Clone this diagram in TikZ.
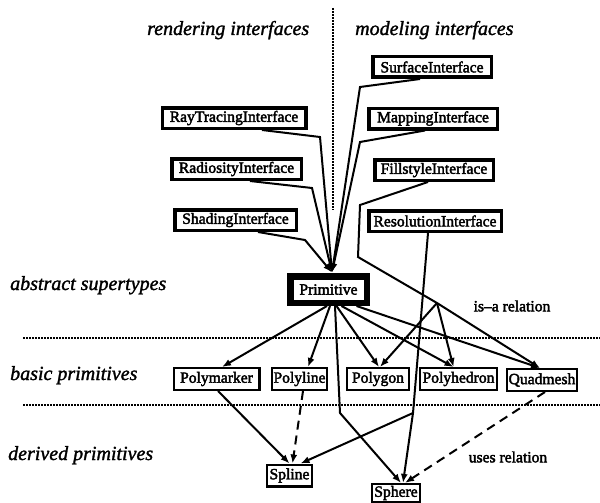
\documentclass[tikz,border=0pt]{standalone}
\usepackage{fontspec}
\setmainfont{Liberation Serif}
\newfontfamily\boxfont{Liberation Serif}[FakeBold=2.5]
\newfontfamily\levelfont{Liberation Serif}[FakeBold=1.5]
\usetikzlibrary{arrows.meta}
\begin{document}
\begin{tikzpicture}[x=1pt,y=-1pt,
  boxtext/.style={font=\boxfont\fontsize{15.6}{16}\selectfont},
  iface/.style={draw,line width=3.5pt,inner sep=0pt,minimum height=20.5pt,minimum width=#1,boxtext},
  basic/.style={draw,line width=2.2pt,inner sep=0pt,minimum height=21.8pt,minimum width=#1,boxtext},
  super/.style={draw,line width=6.5pt,inner sep=0pt,minimum width=76.5pt,minimum height=26.5pt,boxtext},
  level/.style={anchor=base west,inner sep=0pt,font=\levelfont\itshape\fontsize{20}{21}\selectfont},
  relname/.style={inner sep=0pt,boxtext},
  link/.style={line width=2pt,-{Latex[length=9pt,width=7pt]}},
  plain/.style={line width=2pt},
  uses/.style={link,dash pattern=on 9pt off 6pt},
  sep/.style={line width=1.6pt,dash pattern=on 1.6pt off 1.4pt}
]
\useasboundingbox (0,0) rectangle (600,503);

% separators between the levels
\coordinate (vtop) at (333,8);
\coordinate (vbot) at (333,210);
\coordinate (h1l) at (23,338);
\coordinate (h1r) at (600,338);
\coordinate (h2l) at (23,405);
\coordinate (h2r) at (600,405);
\draw[sep] (vtop) -- (vbot);
\draw[sep] (h1l) -- (h1r);
\draw[sep] (h2l) -- (h2r);

% level captions
\node[level] (lrend) at (147,35) {rendering interfaces};
\node[level] (lmod) at (355,35) {modeling interfaces};
\node[level] (labs) at (10,290) {abstract supertypes};
\node[level] (lbas) at (10,380) {basic primitives};
\node[level] (lder) at (8,460) {derived primitives};
\node[relname] (isa) at (512,306) {is\textendash a relation};
\node[relname] (usesrel) at (508,457) {uses relation};

% interfaces
\node[iface=118.5pt] (sf)  at (432,67)    {SurfaceInterface};
\node[iface=143.5pt] (rt)  at (234,118)   {RayTracingInterface};
\node[iface=128.5pt] (mp)  at (433,118.5) {MappingInterface};
\node[iface=129.5pt] (rad) at (236.5,169) {RadiosityInterface};
\node[iface=118.5pt] (fs)  at (434,170)   {FillstyleInterface};
\node[iface=121.5pt] (sh)  at (235.5,220) {ShadingInterface};
\node[iface=132.5pt] (res) at (435,221)   {ResolutionInterface};

% abstract supertype
\node[super] (prim) at (328.5,289.5) {Primitive};

% basic primitives
\node[basic=85.8pt] (pm) at (216.5,379) {Polymarker};
\node[basic=54.8pt] (pl) at (299.5,379) {Polyline};
\node[basic=61.8pt] (pg) at (378,379)   {Polygon};
\node[basic=76.8pt] (ph) at (458.5,379) {Polyhedron};
\node[basic=69.8pt] (qm) at (542,380)   {Quadmesh};

% derived primitives
\node[basic=44.8pt] (spl) at (289.5,475.5) {Spline};
\node[basic=47.8pt,minimum height=18pt] (sph) at (396,493) {Sphere};

% bend points of the connectors
\coordinate (pin) at (332,272.5);
\coordinate (brt) at (320,137);
\coordinate (brad) at (312,188);
\coordinate (bsh) at (305,240);
\coordinate (bsf) at (360,87);
\coordinate (bmp) at (360,142);
\coordinate (bfs1) at (360,205);
\coordinate (bfs2) at (358,257);
\coordinate (jfs) at (437,303);
\coordinate (bres) at (413,413);
\coordinate (bsph) at (340,413);

% interfaces inherited by Primitive
\draw[link] ([xshift=28pt]rt.south) -- (brt) -- (pin);
\draw[link] ([xshift=13.5pt]rad.south) -- (brad) -- (pin);
\draw[link] ([xshift=22.5pt]sh.south) -- (bsh) -- (pin);
\draw[link] ([xshift=-12pt]sf.south) -- (bsf) -- (pin);
\draw[link] ([xshift=-8pt]mp.south) -- (bmp) -- (pin);

% fill styles for the area primitives
\draw[link] ([xshift=-6pt]fs.south) -- (bfs1) -- (bfs2) -- (jfs) -- ([xshift=-2pt]qm.north);
\draw[link] (jfs) -- ([xshift=2pt]pg.north);
\draw[link] (jfs) -- ([xshift=-5pt]ph.north);

% resolution for the curved primitives
\draw[plain] ([xshift=-7pt]res.south) -- (bres);
\draw[link] (bres) -- ([xshift=11pt]spl.north);
\draw[link] (bres) -- ([xshift=7pt]sph.north);

% Primitive and its subtypes
\draw[link] ([xshift=-1.5pt]prim.south) -- ([xshift=5.5pt]pm.north);
\draw[link] ([xshift=1.5pt]prim.south) -- ([xshift=8.5pt]pl.north);
\draw[link] ([xshift=6.5pt]prim.south) -- (bsph) -- ([xshift=5pt]sph.north);
\draw[link] ([xshift=8pt]prim.south) -- ([xshift=1pt]pg.north);
\draw[link] ([xshift=13pt]prim.south) -- ([xshift=-5pt]ph.north);
\draw[link] ([xshift=28pt]prim.south) -- ([xshift=-2pt]qm.north);

% derived primitives
\draw[link] ([xshift=1.5pt]pm.south) -- ([xshift=0pt]spl.north);
\draw[uses] ([xshift=3.5pt]pl.south) -- ([xshift=3pt]spl.north);
\draw[uses] ([xshift=3pt]qm.south) -- ([xshift=9pt]sph.north);
\end{tikzpicture}
\end{document}
